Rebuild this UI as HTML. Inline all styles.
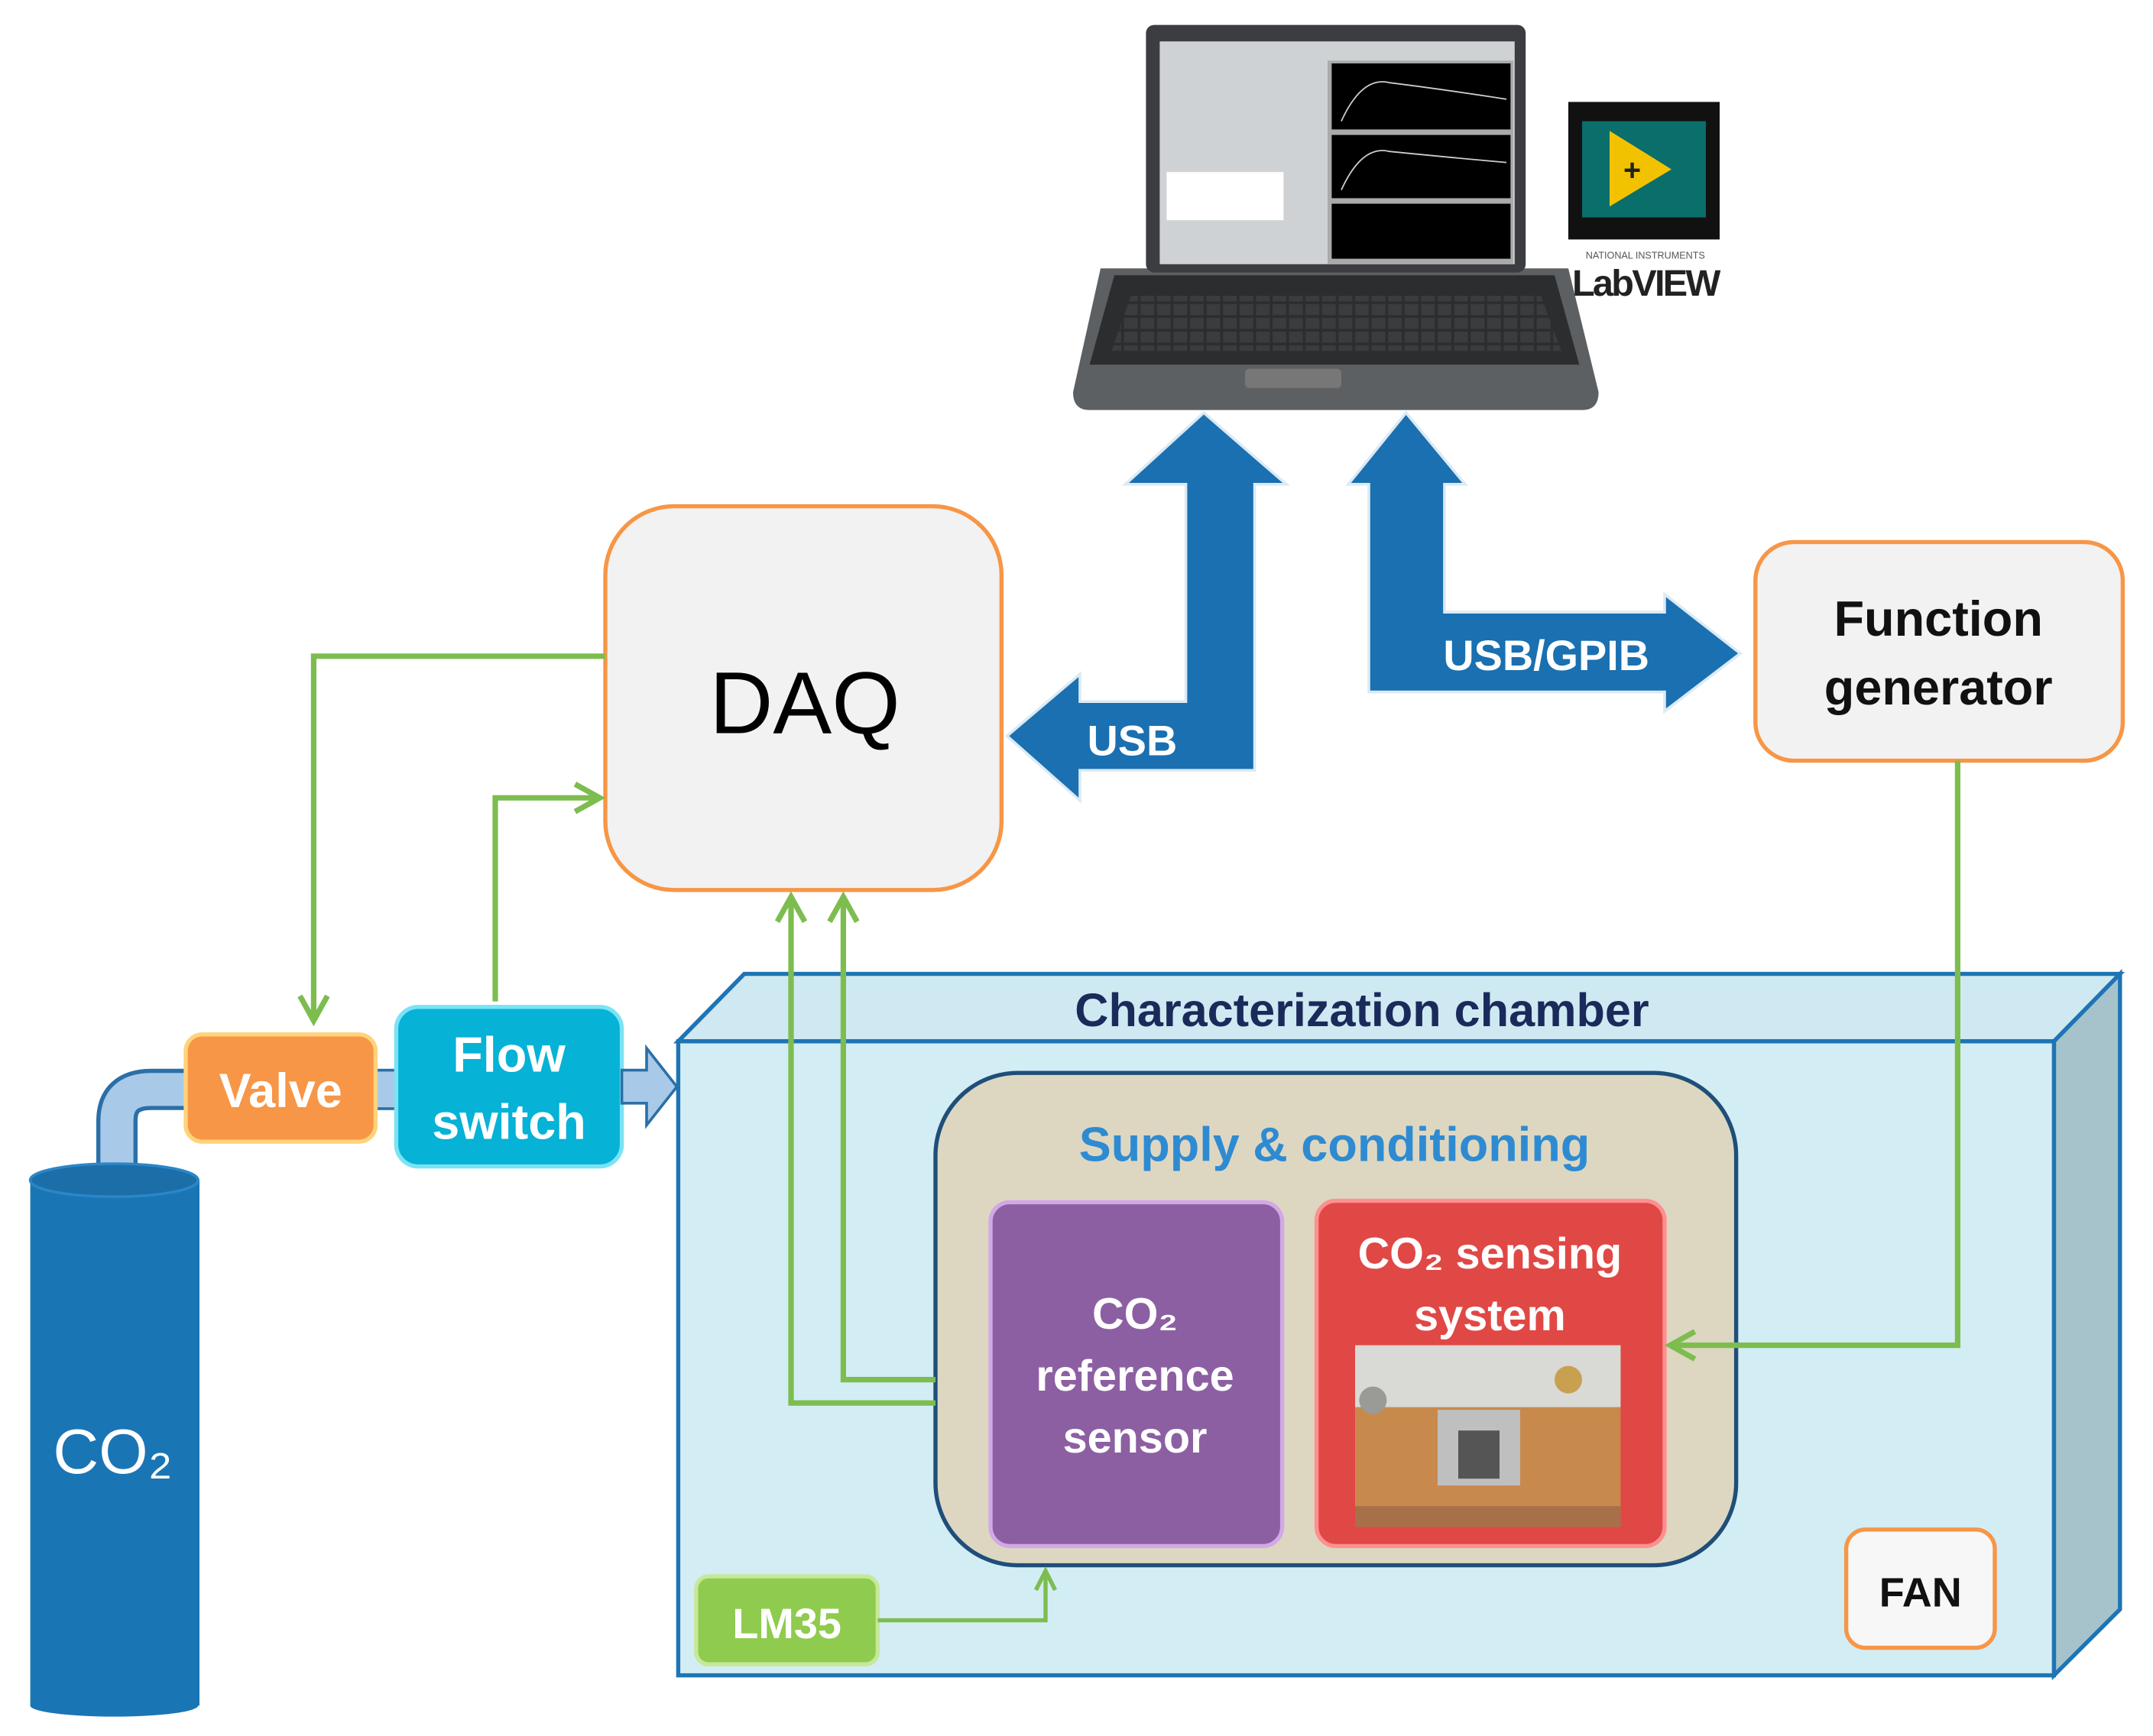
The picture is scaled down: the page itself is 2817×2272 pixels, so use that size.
<!DOCTYPE html>
<html><head><meta charset="utf-8"><style>
html,body{margin:0;padding:0;background:#fff;}
svg{display:block;}
text{font-family:"Liberation Sans","DejaVu Sans",sans-serif;}
</style></head><body>
<svg width="2817" height="2272" viewBox="0 0 1565 1262" xmlns="http://www.w3.org/2000/svg">
<defs>
<marker id="ga" markerWidth="20" markerHeight="20" refX="17" refY="10" orient="auto" markerUnits="userSpaceOnUse"><path d="M3,3 L17,10 L3,17" fill="none" stroke="#7dbd4f" stroke-width="3"/></marker>
<marker id="gb" markerWidth="26" markerHeight="26" refX="22" refY="13" orient="auto" markerUnits="userSpaceOnUse"><path d="M4,3 L22,13 L4,23" fill="none" stroke="#7dbd4f" stroke-width="4"/></marker>
<pattern id="kb" width="12" height="10" patternUnits="userSpaceOnUse"><rect x="1" y="1" width="10" height="8" fill="#3a3c3e"/></pattern>
</defs>
<rect width="1565" height="1262" fill="#fff"/>

<!-- Laptop -->
<path d="M800,195 L1140,195 L1162,285 Q1162,298 1150,298 L792,298 Q780,298 780,285 Z" fill="#5d6063"/>
<path d="M810,200 L1130,200 L1148,265 L792,265 Z" fill="#2b2d2f"/>
<path d="M822,215 L1120,215 L1135,255 L808,255 Z" fill="url(#kb)"/>
<rect x="905" y="268" width="70" height="14" rx="3" fill="#777"/>
<rect x="833" y="18" width="276" height="180" rx="6" fill="#3b3d40"/>
<rect x="843" y="30" width="258" height="162" fill="#cfd2d4"/>
<rect x="965" y="44" width="135" height="148" fill="#aaa"/>
<rect x="968" y="46" width="130" height="48" fill="#000"/>
<rect x="968" y="98" width="130" height="46" fill="#000"/>
<rect x="968" y="148" width="130" height="40" fill="#000"/>
<path d="M975,88 Q990,55 1010,60 Q1050,65 1095,72" stroke="#ccc" fill="none" stroke-width="1"/>
<path d="M975,138 Q990,105 1010,110 Q1050,114 1095,118" stroke="#ccc" fill="none" stroke-width="1"/>
<rect x="848" y="125" width="85" height="35" fill="#fff"/>

<!-- LabVIEW logo -->
<rect x="1140" y="74" width="110" height="100" fill="#111"/>
<rect x="1150" y="88" width="90" height="70" fill="#0a6e6a"/>
<path d="M1170,95 L1215,123 L1170,150 Z" fill="#f2c200"/>
<text x="1180" y="131" font-size="22" font-weight="bold" fill="#222">+</text>
<text x="1196" y="188" font-size="7" fill="#555" text-anchor="middle">NATIONAL INSTRUMENTS</text>
<text x="1196" y="215" font-size="27" font-weight="bold" fill="#222" text-anchor="middle" letter-spacing="-1.5">LabVIEW</text>

<!-- Blue arrows -->
<polygon points="875,300 935,352 912,352 912,560 785,560 785,582 732,535 785,490 785,510 862,510 862,352 818,352" fill="#1a70b0" stroke="#dceaf5" stroke-width="2"/>
<text x="823" y="549" font-size="31" font-weight="bold" fill="#fff" text-anchor="middle">USB</text>
<polygon points="1022,300 1065,352 1050,352 1050,445 1210,445 1210,432 1265,475 1210,517 1210,503 995,503 995,352 980,352" fill="#1a70b0" stroke="#dceaf5" stroke-width="2"/>
<text x="1124" y="487" font-size="31" font-weight="bold" fill="#fff" text-anchor="middle">USB/GPIB</text>

<!-- DAQ -->
<rect x="440" y="368" width="288" height="279" rx="50" fill="#f2f2f2" stroke="#f79646" stroke-width="3"/>
<text x="585" y="533" font-size="64" fill="#000" text-anchor="middle">DAQ</text>

<!-- Function generator -->
<rect x="1276" y="394" width="267" height="159" rx="28" fill="#f2f2f2" stroke="#f79646" stroke-width="3"/>
<text x="1409" y="462" font-size="36" font-weight="bold" fill="#111" text-anchor="middle">Function</text>
<text x="1409" y="512" font-size="36" font-weight="bold" fill="#111" text-anchor="middle">generator</text>

<!-- Chamber -->
<polygon points="493,757 541,708 1541,708 1493,757" fill="#cfe9f2" stroke="#1f74b4" stroke-width="3"/>
<polygon points="1493,757 1541,708 1541,1170 1493,1218" fill="#a6c3cb" stroke="#1f74b4" stroke-width="3"/>
<rect x="493" y="757" width="1000" height="461" fill="#d3edf5" stroke="#1f74b4" stroke-width="3"/>
<text x="990" y="746" font-size="34" font-weight="bold" fill="#1a2a5a" text-anchor="middle">Characterization chamber</text>

<rect x="680" y="780" width="582" height="358" rx="60" fill="#ddd7c2" stroke="#1f4e79" stroke-width="3"/>
<text x="970" y="844" font-size="35" font-weight="bold" fill="#2e8bd1" text-anchor="middle">Supply &amp; conditioning</text>

<rect x="720" y="874" width="212" height="250" rx="14" fill="#8c5fa2" stroke="#d3a8e6" stroke-width="3"/>
<text x="825" y="966" font-size="32" font-weight="bold" fill="#fff" text-anchor="middle">CO₂</text>
<text x="825" y="1011" font-size="32" font-weight="bold" fill="#fff" text-anchor="middle">reference</text>
<text x="825" y="1056" font-size="32" font-weight="bold" fill="#fff" text-anchor="middle">sensor</text>

<rect x="957" y="873" width="253" height="251" rx="14" fill="#e04845" stroke="#ff9090" stroke-width="3"/>
<text x="1083" y="922" font-size="32" font-weight="bold" fill="#fff" text-anchor="middle">CO₂  sensing</text>
<text x="1083" y="967" font-size="32" font-weight="bold" fill="#fff" text-anchor="middle">system</text>
<rect x="985" y="978" width="193" height="132" fill="#c88a4c"/>
<rect x="985" y="978" width="193" height="45" fill="#d9d9d6"/>
<circle cx="998" cy="1018" r="10" fill="#9a9a96"/>
<circle cx="1140" cy="1003" r="10" fill="#c8a050"/>
<rect x="1045" y="1025" width="60" height="55" fill="#bfbfbf"/>
<rect x="1060" y="1040" width="30" height="35" fill="#555"/>
<rect x="985" y="1095" width="193" height="15" fill="#a87048"/>

<rect x="1342" y="1112" width="108" height="86" rx="14" fill="#f7f7f7" stroke="#f79646" stroke-width="3"/>
<text x="1396" y="1168" font-size="30" font-weight="bold" fill="#111" text-anchor="middle">FAN</text>

<rect x="506" y="1146" width="132" height="64" rx="9" fill="#8fcb4e" stroke="#c6e89a" stroke-width="3"/>
<text x="572" y="1191" font-size="31" font-weight="bold" fill="#fff" text-anchor="middle">LM35</text>

<!-- Cylinder and pipe -->
<path d="M85,858 L85,815 Q85,792 110,792 L140,792" fill="none" stroke="#2a6fa8" stroke-width="30"/>
<path d="M85,858 L85,815 Q85,792 110,792 L140,792" fill="none" stroke="#a9c9e8" stroke-width="24"/>
<rect x="270" y="778" width="22" height="28" fill="#a9c9e8" stroke="#2a6fa8" stroke-width="2"/>
<rect x="22" y="858" width="123" height="382" fill="#1a75b5"/>
<ellipse cx="83" cy="1240" rx="61" ry="8" fill="#1a75b5"/>
<ellipse cx="83" cy="858" rx="61" ry="12" fill="#1b6ea8" stroke="#2b86c8" stroke-width="2"/>
<text x="82" y="1071" font-size="46" fill="#fff" text-anchor="middle">CO₂</text>

<rect x="135" y="752" width="138" height="78" rx="12" fill="#f79646" stroke="#ffd37a" stroke-width="3"/>
<text x="204" y="805" font-size="35" font-weight="bold" fill="#fff" text-anchor="middle">Valve</text>

<rect x="288" y="732" width="164" height="116" rx="16" fill="#06b2d6" stroke="#7ae3f5" stroke-width="3"/>
<text x="370" y="779" font-size="36" font-weight="bold" fill="#fff" text-anchor="middle">Flow</text>
<text x="370" y="828" font-size="36" font-weight="bold" fill="#fff" text-anchor="middle">switch</text>

<polygon points="452,778 470,778 470,762 492,790 470,818 470,802 452,802" fill="#a9c9e8" stroke="#2a6fa8" stroke-width="2"/>

<!-- Green connectors -->
<g fill="none" stroke="#7dbd4f" stroke-width="4">
<path d="M440,477 L228,477 L228,742" marker-end="url(#gb)"/>
<path d="M360,728 L360,580 L436,580" marker-end="url(#gb)"/>
<path d="M680,1020 L575,1020 L575,652" marker-end="url(#gb)"/>
<path d="M680,1003 L613,1003 L613,652" marker-end="url(#gb)"/>
<path d="M1423,553 L1423,978 L1214,978" marker-end="url(#gb)"/>
</g>
<g fill="none" stroke="#7dbd4f" stroke-width="3">
<path d="M638,1178 L760,1178 L760,1142" marker-end="url(#ga)"/>
</g>
</svg>
</body></html>
